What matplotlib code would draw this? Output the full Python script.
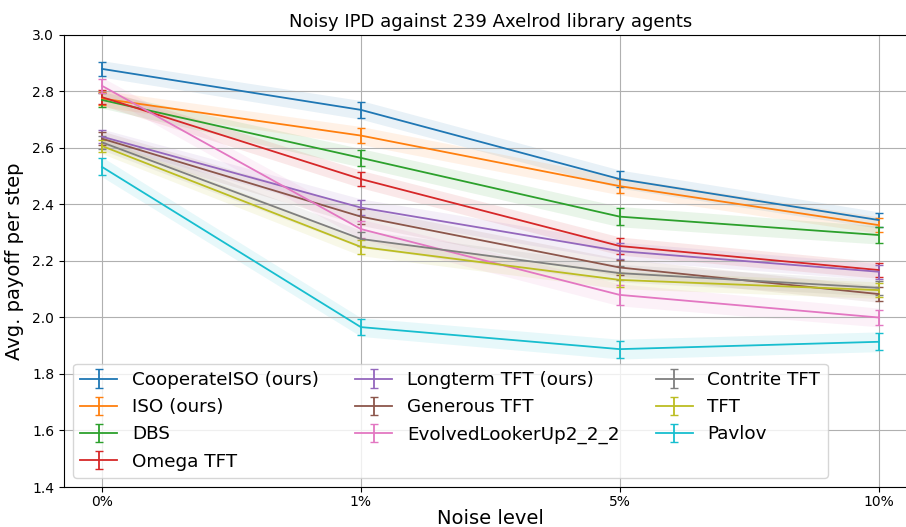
import matplotlib.pyplot as plt
import numpy as np

noise_levels = ["0%", "1%", "5%", "10%"]

agents = ["CooperateISO (ours)", "ISO (ours)", "DBS", "Omega TFT",
          "Longterm TFT (ours)", "Generous TFT", "EvolvedLookerUp2_2_2",
          "Contrite TFT", "TFT", "Pavlov"]

cooperate_iso = [2.880, 2.735, 2.490, 2.345]
iso = [2.775, 2.644, 2.465, 2.327]
dbs = [2.770, 2.565, 2.357, 2.292]
omega_tft = [2.780, 2.490, 2.253, 2.168]
longterm_tft = [2.640, 2.389, 2.235, 2.162]
generous_tft = [2.633, 2.357, 2.177, 2.083]
evolved = [2.820, 2.313, 2.080, 2.000]
contrite_tft = [2.620, 2.278, 2.157, 2.105]
tft = [2.607, 2.250, 2.133, 2.097]
pavlov = [2.533, 1.966, 1.888, 1.914]

err_cooperate_iso = [0.024, 0.028, 0.027, 0.024]
err_iso = [0.024, 0.027, 0.026, 0.024]
err_dbs = [0.024, 0.028, 0.031, 0.027]
err_omega_tft = [0.024, 0.026, 0.027, 0.024]
err_longterm_tft = [0.022, 0.026, 0.027, 0.024]
err_generous_tft = [0.022, 0.026, 0.026, 0.024]
err_evolved = [0.025, 0.030, 0.034, 0.028]
err_contrite_tft = [0.022, 0.026, 0.026, 0.024]
err_tft = [0.022, 0.026, 0.026, 0.024]
err_pavlov = [0.030, 0.028, 0.030, 0.030]

values = [cooperate_iso, iso, dbs, omega_tft, longterm_tft, generous_tft,
          evolved, contrite_tft, tft, pavlov]
errors = [err_cooperate_iso, err_iso, err_dbs, err_omega_tft, err_longterm_tft,
          err_generous_tft, err_evolved, err_contrite_tft, err_tft, err_pavlov]

fig = plt.figure(figsize=(9.06, 5.27), dpi=100)
ax = fig.add_axes([0.0706, 0.0759, 0.942, 0.8577])

x = np.arange(len(noise_levels))
colors = plt.rcParams['axes.prop_cycle'].by_key()['color']

for i, (name, y, e) in enumerate(zip(agents, values, errors)):
    y = np.array(y)
    e = np.array(e)
    c = colors[i % len(colors)]
    ax.errorbar(x, y, yerr=e, color=c, capsize=3, label=name, linewidth=1.3)
    ax.fill_between(x, y - e - 0.005, y + e + 0.005, color=c, alpha=0.1, linewidth=0)

ax.set_xticks(x)
ax.set_xticklabels(noise_levels, fontsize=10)
ax.set_xlim(-0.147, 3.15)
ax.set_ylim(1.4, 3.0)
ax.set_yticks(np.arange(1.4, 3.01, 0.2))
ax.tick_params(axis='y', labelsize=10)
ax.tick_params(axis='x', pad=2)
ax.grid(True)
ax.set_xlabel("Noise level", fontsize=14, labelpad=0)
ax.set_ylabel("Avg. payoff per step", fontsize=14, labelpad=6)
ax.set_title("Noisy IPD against 239 Axelrod library agents", fontsize=13)
ax.legend(loc='lower left', ncol=3, fontsize=13.2, bbox_to_anchor=(0.0, 0.0))

fig.savefig("out.png", dpi=100)
plt.close(fig)
